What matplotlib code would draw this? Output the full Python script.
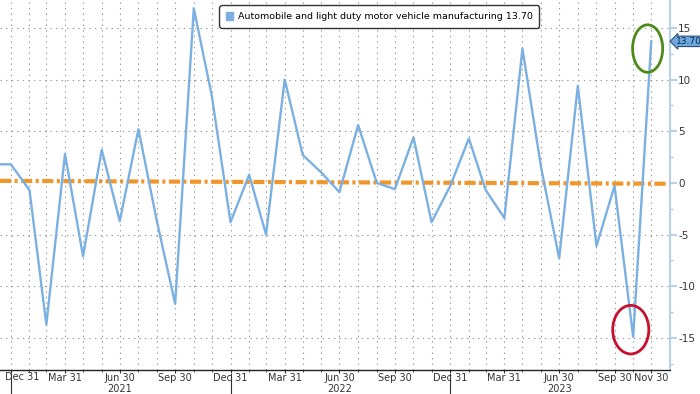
import matplotlib
matplotlib.use("Agg")
import matplotlib.pyplot as plt
import matplotlib.dates as mdates
from matplotlib.patches import Patch, Ellipse
import pandas as pd

# ---- data ----
dates = pd.date_range("2020-11-30", "2023-11-30", freq="ME")
values = [1.8, 1.8, -0.7, -13.7, 2.8, -7.1, 3.2, -3.7, 5.2, -3.8, -11.7, 16.9, 8.4,
          -3.8, 0.8, -5.0, 10.0, 2.7, 1.0, -0.9, 5.6, 0.0, -0.6, 4.4, -3.8,
          -0.3, 4.3, -0.7, -3.4, 13.0, 1.5, -7.3, 9.4, -6.1, -0.3, -14.9, 13.7]
series_name = "Automobile and light duty motor vehicle manufacturing"
last_label = "13.70"
trend_dates = [pd.Timestamp("2020-12-13"), pd.Timestamp("2023-12-31")]
trend_values = [0.2, -0.08]
tick_dates = pd.to_datetime(["2020-12-31", "2021-03-31", "2021-06-30", "2021-09-30",
                             "2021-12-31", "2022-03-31", "2022-06-30", "2022-09-30",
                             "2022-12-31", "2023-03-31", "2023-06-30", "2023-09-30",
                             "2023-11-30"])
tick_labels = ["Dec 31", "Mar 31", "Jun 30", "Sep 30", "Dec 31", "Mar 31", "Jun 30",
               "Sep 30", "Dec 31", "Mar 31", "Jun 30", "Sep 30", "Nov 30"]
years = ["2021", "2022", "2023"]
year_centers = pd.to_datetime(["2021-06-30", "2022-06-30", "2023-06-30"])
year_breaks = pd.to_datetime(["2020-12-31", "2021-12-31", "2022-12-31"])
yticks = [-15, -10, -5, 0, 5, 10, 15]

plt.rcParams['lines.scale_dashes'] = False
fig = plt.figure(figsize=(7.0, 3.94), dpi=100)
ax = fig.add_axes([0.0, 0.061, 0.957, 0.939])

line_color = "#7BB0E2"
ax.plot(dates, values, color=line_color, lw=1.7, zorder=3)
ax.plot(trend_dates, trend_values, color="#F0962A", lw=3.0,
        dashes=[8, 2.5, 2.2, 2.5], zorder=2)

ax.set_xlim(pd.Timestamp("2020-12-13"), pd.Timestamp("2023-12-31"))
ax.set_ylim(-18.1, 17.7)

# grid
month_grid = pd.date_range("2020-12-31", "2023-11-30", freq="ME")
for d in month_grid:
    ax.axvline(d, color="#9A9A9A", lw=0.8, ls=(0, (1, 3)), zorder=1)
for y in yticks:
    if y != 0:
        ax.axhline(y, color="#9A9A9A", lw=0.8, ls=(0, (1, 3)), zorder=1)

# spines
for s in ["top", "left"]:
    ax.spines[s].set_visible(False)
ax.spines["right"].set_color("#A9C8E8")
ax.spines["right"].set_linewidth(1.2)
ax.spines["bottom"].set_color("#222222")
ax.spines["bottom"].set_linewidth(1.0)

# y axis on right
ax.yaxis.tick_right()
ax.set_yticks(yticks)
ax.set_yticklabels([str(v) for v in yticks])
ax.set_yticks([-17.5, -12.5, -7.5, -2.5, 2.5, 7.5, 12.5], minor=True)
ax.tick_params(axis="y", which="major", direction="out", length=5, width=1.2,
               color="#A9C8E8", labelsize=7.5, labelcolor="#333333", pad=1)
ax.tick_params(axis="y", which="minor", direction="out", length=2.5, width=1,
               color="#A9C8E8")

# x axis
ax.set_xticks(tick_dates)
ax.set_xticklabels([""] + tick_labels[1:])
ax.set_xticks(month_grid, minor=True)
ax.tick_params(axis="x", which="major", direction="out", length=2, width=0.8,
               color="#333333", labelsize=7, labelcolor="#333333", pad=0.5)
ax.tick_params(axis="x", which="minor", direction="out", length=1.2, width=0.6,
               color="#333333")

trans = ax.get_xaxis_transform()
ax.annotate(tick_labels[0], xy=(mdates.date2num(tick_dates[0]), 0), xycoords=trans,
            xytext=(8, -1.8), textcoords="offset points", ha="center", va="top",
            fontsize=7, color="#333333", annotation_clip=False)
for yr, c in zip(years, year_centers):
    ax.text(mdates.date2num(c), -0.051, yr, transform=trans, ha="center",
            va="center", fontsize=7, color="#333333")
for b in year_breaks:
    bx = mdates.date2num(b)
    ax.plot([bx, bx], [-0.012, -0.07], transform=trans, color="#333333",
            lw=0.8, clip_on=False)

# legend
handle = Patch(facecolor=line_color, edgecolor=line_color)
leg = ax.legend([handle], [f"{series_name} {last_label}"], loc="upper center",
                bbox_to_anchor=(0.566, 0.993), fontsize=6.8, handlelength=0.8,
                handleheight=0.9, handletextpad=0.5, borderpad=0.5,
                fancybox=True, framealpha=1, edgecolor="#333333")
leg.get_frame().set_linewidth(1.0)
leg.get_frame().set_boxstyle("round,pad=0.2,rounding_size=0.3")

# last value tag
ax.annotate(last_label, xy=(1.0, values[-1]), xycoords=("axes fraction", "data"),
            xytext=(4, 0), textcoords="offset points", ha="left", va="center",
            fontsize=6.5, color="#0B2A4A",
            bbox=dict(boxstyle="larrow,pad=0.08", facecolor="#6FA8DC",
                      edgecolor="#2B4F7A", lw=0.8),
            annotation_clip=False)

# highlight ellipses
ax.add_patch(Ellipse((mdates.date2num(pd.Timestamp("2023-10-27")), -14.2),
                     width=60, height=4.7, fill=False, edgecolor="#C8102E",
                     lw=2.0, zorder=4))
ax.add_patch(Ellipse((mdates.date2num(pd.Timestamp("2023-11-24")), 13.0),
                     width=50, height=4.6, fill=False, edgecolor="#4E8A1A",
                     lw=2.0, zorder=4))

fig.savefig("out.png", dpi=100)
